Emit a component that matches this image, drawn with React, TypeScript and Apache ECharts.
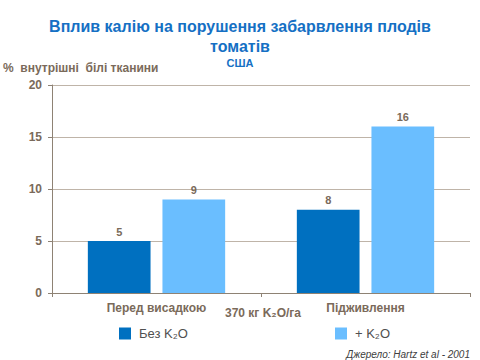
import React, { useEffect, useRef } from "react";
import * as echarts from "echarts";

const categories = ["Перед висадкою", "Підживлення"];
const seriesNames = ["Без K₂O", "+ K₂O"];
const withoutK = [5, 8];
const withK = [9, 16];
const yTicks = { min: 0, max: 20, interval: 5 };

const LABEL = "#7a6a5a";
const TITLE = "#1570c4";

export default function App() {
  const ref = useRef<HTMLDivElement>(null);
  useEffect(() => {
    if (!ref.current) return;
    const chart = echarts.init(ref.current, undefined, { renderer: "svg" });
    chart.setOption({
      animation: false,
      backgroundColor: "#ffffff",
      textStyle: { fontFamily: "Liberation Sans, Arial, sans-serif" },
      title: {
        text: "Вплив калію на порушення забарвлення плодів\nтоматів",
        subtext: "США",
        left: "center",
        top: 11,
        itemGap: 0,
        textStyle: { fontSize: 16, fontWeight: "bold", color: TITLE, lineHeight: 20 },
        subtextStyle: { fontSize: 11, fontWeight: "bold", color: TITLE, lineHeight: 13 },
      },
      grid: { left: 52, right: 10, top: 85, bottom: 67 },
      legend: [
        {
          data: [seriesNames[0]],
          left: 119,
          top: 327,
          padding: 0,
          itemWidth: 12,
          itemHeight: 12,
          icon: "rect",
          textStyle: { fontSize: 13, color: "#505050", padding: [0, 0, 0, 3] },
        },
        {
          data: [seriesNames[1]],
          left: 335,
          top: 327,
          padding: 0,
          itemWidth: 12,
          itemHeight: 12,
          icon: "rect",
          textStyle: { fontSize: 13, color: "#505050", padding: [0, 0, 0, 3] },
        },
      ],
      xAxis: {
        type: "category",
        data: categories,
        axisLine: { lineStyle: { color: "#8e8274", width: 1 } },
        axisTick: { show: true, length: 4, lineStyle: { color: "#8e8274" } },
        axisLabel: { fontSize: 12, fontWeight: "bold", color: LABEL, margin: 9 },
      },
      yAxis: {
        type: "value",
        min: yTicks.min,
        max: yTicks.max,
        interval: yTicks.interval,
        axisLine: { show: true, lineStyle: { color: "#8e8274", width: 1 } },
        axisTick: { show: true, length: 4, lineStyle: { color: "#8e8274" } },
        axisLabel: { fontSize: 12, fontWeight: "bold", color: LABEL, margin: 10 },
        splitLine: { lineStyle: { color: "#bfb4a8", width: 1 } },
      },
      series: [
        {
          name: seriesNames[0],
          type: "bar",
          data: withoutK,
          barWidth: "30%",
          barGap: "19%",
          itemStyle: { color: "#0070c0" },
          label: { show: true, position: "top", distance: 4, fontSize: 11, fontWeight: "bold", color: LABEL },
        },
        {
          name: seriesNames[1],
          type: "bar",
          data: withK,
          barWidth: "30%",
          itemStyle: { color: "#6abeff" },
          label: { show: true, position: "top", distance: 4, fontSize: 11, fontWeight: "bold", color: LABEL },
        },
      ],
      graphic: [
        {
          type: "text",
          left: 3,
          top: 62,
          style: { text: "%  внутрішні  білі тканини", fontSize: 12, fontWeight: "bold", fill: LABEL, fontFamily: "Liberation Sans, Arial, sans-serif" },
        },
        {
          type: "text",
          x: 263,
          y: 313,
          style: { text: "370 кг K₂O/га", fontSize: 12, fontWeight: "bold", fill: LABEL, align: "center", verticalAlign: "middle", fontFamily: "Liberation Sans, Arial, sans-serif" },
        },
        {
          type: "text",
          x: 470,
          y: 354,
          style: { text: "Джерело: Hartz et al - 2001", fontSize: 10, fontStyle: "italic", fill: "#404040", align: "right", verticalAlign: "middle", fontFamily: "Liberation Sans, Arial, sans-serif" },
        },
      ],
    });
    return () => chart.dispose();
  }, []);
  return <div ref={ref} style={{ width: 480, height: 360, position: "absolute", left: 0, top: 0 }} />;
}
